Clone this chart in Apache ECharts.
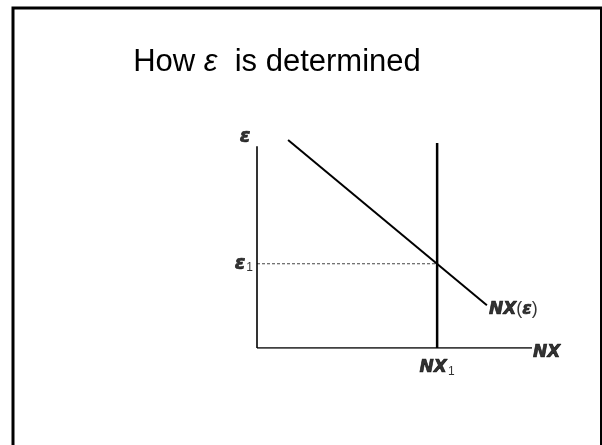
<!DOCTYPE html>
<html>
<head>
<meta charset="utf-8">
<script src="https://cdn.jsdelivr.net/npm/echarts@6/dist/echarts.min.js"></script>
<style>
  html, body { margin: 0; padding: 0; background: #fff; }
  #chart { width: 602px; height: 445px; }
</style>
</head>
<body>
<div id="chart"></div>
<script>
// diagram data, in abstract units (0..100 on both axes)
var yAxisLine = [[0, 0], [0, 97]];
var xAxisLine = [[0, 0], [100, 0]];
var nxSupply = [[65.5, 0], [65.5, 98.6]];      // vertical NX1 line
var nxCurve = [[11.3, 100], [83.6, 20.6]];     // NX(eps) schedule
var eps1Line = [[0, 40.5], [65.5, 40.5]];      // dashed guide
var labelNames = ['ε', 'ε1', 'NX', 'NX1', 'NX(ε)'];

var chartDom = document.getElementById('chart');
var myChart = echarts.init(chartDom);
var option;

var titleFont = '"Liberation Sans", Arial, sans-serif';
var lblFont = '"DejaVu Sans", sans-serif';
var rich = {
  b: { fontFamily: lblFont, fontSize: 17, fontWeight: 'bold', fontStyle: 'oblique', color: '#000',
       textBorderColor: '#000', textBorderWidth: 0.7 },
  e: { fontFamily: lblFont, fontSize: 19, fontWeight: 'bold', fontStyle: 'oblique', color: '#000',
       textBorderColor: '#000', textBorderWidth: 0.7 },
  p: { fontFamily: titleFont, fontSize: 18, fontWeight: 'normal', fontStyle: 'normal', color: '#000' },
  s: { fontFamily: titleFont, fontSize: 12, fontWeight: 'normal', fontStyle: 'normal', color: '#000', padding: [8, 0, 0, 1] }
};

function lineSeries(data, width, type, color) {
  return {
    type: 'line',
    data: data,
    symbol: 'none',
    silent: true,
    lineStyle: { color: color || '#000', width: width, type: type || 'solid' }
  };
}

function lbl(formatter, extra) {
  var l = { show: true, formatter: formatter, rich: rich, color: '#000' };
  for (var k in extra) l[k] = extra[k];
  return l;
}

option = {
  animation: false,
  backgroundColor: '#fff',
  title: {
    text: '{a|How }{e|ε}{a|  is determined}',
    left: 272,
    top: 42,
    textAlign: 'center',
    textStyle: {
      fontWeight: 'normal',
      rich: {
        a: { fontFamily: titleFont, fontSize: 31, fontWeight: 'normal', color: '#000' },
        e: { fontFamily: titleFont, fontSize: 31, fontWeight: 'normal', fontStyle: 'italic', color: '#000' }
      }
    }
  },
  graphic: [
    {
      type: 'rect',
      shape: { x: 13, y: 8, width: 588.5, height: 460 },
      style: { fill: 'none', stroke: '#000', lineWidth: 3 },
      silent: true
    }
  ],
  grid: { left: 257, top: 140, width: 275, height: 208 },
  xAxis: { type: 'value', min: 0, max: 100, show: false },
  yAxis: { type: 'value', min: 0, max: 100, show: false },
  series: [
    lineSeries(eps1Line, 1, [3, 2], '#444'),
    lineSeries(yAxisLine, 1.6),
    lineSeries(xAxisLine, 1.6),
    lineSeries(nxSupply, 2.5),
    lineSeries(nxCurve, 2),
    {
      type: 'scatter',
      symbolSize: 0,
      silent: true,
      data: [
        { name: labelNames[0], value: yAxisLine[1],
          label: lbl('{e|ε}', { position: 'inside', offset: [-12, -9] }) },
        { name: labelNames[1], value: eps1Line[0],
          label: lbl('{e|ε}{s|1}', { position: 'left', distance: 4 }) },
        { name: labelNames[2], value: xAxisLine[1],
          label: lbl('{b|NX}', { position: 'right', distance: 1, offset: [0, 5] }) },
        { name: labelNames[3], value: nxSupply[0],
          label: lbl('{b|NX}{s|1}', { position: 'bottom', distance: 10 }) },
        { name: labelNames[4], value: nxCurve[1],
          label: lbl('{b|NX}{p|(}{b|ε}{p|)}', { position: 'right', distance: 2, offset: [0, 4] }) }
      ]
    }
  ]
};

option && myChart.setOption(option);
</script>
</body>
</html>
